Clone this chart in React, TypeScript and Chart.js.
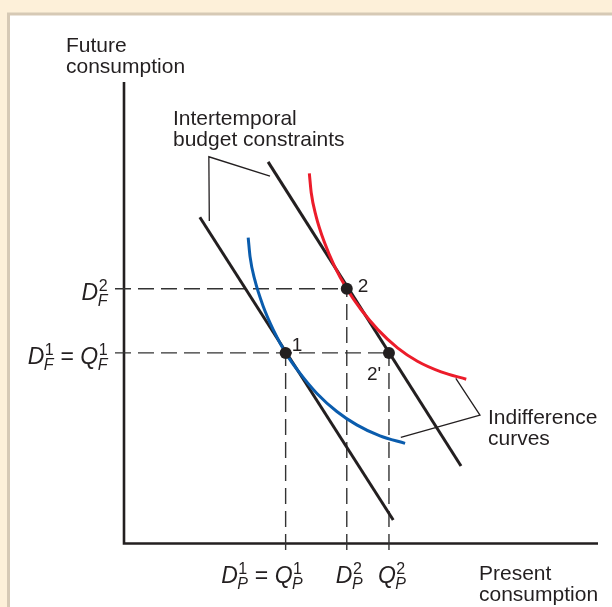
import React, { useEffect, useRef } from 'react';
import { Chart, registerables } from 'chart.js';

Chart.register(...registerables);

// ---- data (present consumption on x, future consumption on y; 0..100 units) ----
const budget1X = [16.0, 56.8];
const budget1Y = [70.7, 5.1];
const budget2X = [30.4, 71.1];
const budget2Y = [82.7, 16.8];

const indiff1X = [26.2, 26.6, 27.6, 29.4, 31.5, 34.1, 37.1, 40.7, 44.9, 49.1, 54.0, 59.3];
const indiff1Y = [66.3, 62.1, 57.1, 51.3, 46.3, 41.3, 36.9, 32.5, 28.6, 25.7, 23.3, 21.7];
const indiff2X = [39.1, 39.5, 40.5, 42.3, 44.4, 47.0, 50.0, 53.5, 57.7, 61.9, 66.9, 72.2];
const indiff2Y = [80.2, 76.0, 71.0, 65.2, 60.1, 55.2, 50.7, 46.4, 42.4, 39.5, 37.2, 35.6];

const pointNames = ['1', '2', "2'"];
const pointX = [34.1, 47.0, 55.9];
const pointY = [41.3, 55.2, 41.3];

const budgetLeaderX = [18.0, 17.9, 30.8];
const budgetLeaderY = [69.9, 83.8, 79.6];
const indiffLeaderX = [70.0, 75.1, 58.4];
const indiffLeaderY = [35.8, 27.8, 23.0];

type Tok = { b?: string; t?: string; sup?: string; sub?: string };

const yTickValues = [55.2, 41.3];
const yTickLabels: Tok[][] = [
  [{ b: 'D', sup: '2', sub: 'F' }],
  [{ b: 'D', sup: '1', sub: 'F' }, { t: ' = ' }, { b: 'Q', sup: '1', sub: 'F' }],
];
const xTickValues = [34.1, 47.0, 55.9];
const xTickLabels: Tok[][] = [
  [{ b: 'D', sup: '1', sub: 'P' }, { t: ' = ' }, { b: 'Q', sup: '1', sub: 'P' }],
  [{ b: 'D', sup: '2', sub: 'P' }],
  [{ b: 'Q', sup: '2', sub: 'P' }],
];

const yAxisTitle = ['Future', 'consumption'];
const xAxisTitle = ['Present', 'consumption'];
const budgetNote = ['Intertemporal', 'budget constraints'];
const indiffNote = ['Indifference', 'curves'];

// ---- styles / layout ----
const FONT = '"Liberation Sans", Arial, Helvetica, sans-serif';
const INK = '#231f20';
const BLUE = '#0a5cad';
const RED = '#ec1c2a';
const GUIDE = '#333333';
const TICK_X_EXT = -1.9; // how far guides run left of the y axis (units)
const TICK_Y_EXT = -1.4; // how far guides run below the x axis (units)
const pointLabelOffsets = [
  [6, -2],
  [11, 3],
  [-22, 27],
];

const MAIN = `italic 23px ${FONT}`;
const PLAIN = `23px ${FONT}`;
const SUP = `16px ${FONT}`;
const SUB = `italic 16px ${FONT}`;

function tokWidth(ctx: CanvasRenderingContext2D, tok: Tok): number {
  if (tok.t !== undefined) {
    ctx.font = PLAIN;
    return ctx.measureText(tok.t).width;
  }
  ctx.font = MAIN;
  const w = ctx.measureText(tok.b || '').width;
  ctx.font = SUP;
  const ws = ctx.measureText(tok.sup || '').width;
  ctx.font = SUB;
  const wb = ctx.measureText(tok.sub || '').width;
  return w + Math.max(ws, wb);
}

function drawTok(ctx: CanvasRenderingContext2D, tok: Tok, x: number, base: number): number {
  if (tok.t !== undefined) {
    ctx.font = PLAIN;
    ctx.fillText(tok.t, x, base);
    return ctx.measureText(tok.t).width;
  }
  ctx.font = MAIN;
  ctx.fillText(tok.b || '', x, base);
  const w = ctx.measureText(tok.b || '').width;
  ctx.font = SUP;
  ctx.fillText(tok.sup || '', x + w + 0.5, base - 9);
  const ws = ctx.measureText(tok.sup || '').width;
  ctx.font = SUB;
  ctx.fillText(tok.sub || '', x + w - 0.5, base + 6);
  const wb = ctx.measureText(tok.sub || '').width;
  return w + Math.max(ws, wb);
}

function drawTokens(ctx: CanvasRenderingContext2D, toks: Tok[], left: number, base: number) {
  let x = left;
  for (const t of toks) x += drawTok(ctx, t, x, base);
}

function drawLines(ctx: CanvasRenderingContext2D, lines: string[], left: number, base: number, lh: number) {
  lines.forEach((s, i) => ctx.fillText(s, left, base + i * lh));
}

const framePlugin = {
  id: 'frame',
  beforeDraw(chart: any) {
    const ctx = chart.ctx as CanvasRenderingContext2D;
    const W = chart.width;
    const H = chart.height;
    ctx.save();
    ctx.fillStyle = '#fdf0d9';
    ctx.fillRect(0, 0, W, H);
    ctx.fillStyle = '#d6c9b5';
    ctx.fillRect(7, 12.5, W, H);
    ctx.fillStyle = '#ffffff';
    ctx.fillRect(10, 15.5, W, H);
    ctx.restore();
  },
  beforeDatasetsDraw(chart: any) {
    const ctx = chart.ctx as CanvasRenderingContext2D;
    const a = chart.chartArea;
    ctx.save();
    ctx.strokeStyle = INK;
    ctx.lineWidth = 2.6;
    ctx.lineJoin = 'miter';
    ctx.beginPath();
    ctx.moveTo(a.left, a.top);
    ctx.lineTo(a.left, a.bottom);
    ctx.lineTo(a.right, a.bottom);
    ctx.stroke();
    ctx.restore();
  },
  afterDraw(chart: any) {
    const ctx = chart.ctx as CanvasRenderingContext2D;
    const xs = chart.scales.x;
    const ys = chart.scales.y;
    ctx.save();
    ctx.fillStyle = INK;
    ctx.textBaseline = 'alphabetic';
    ctx.textAlign = 'left';

    ctx.font = `21px ${FONT}`;
    drawLines(ctx, yAxisTitle, 66, 52, 21);
    drawLines(ctx, xAxisTitle, 479, 580, 21);
    drawLines(ctx, budgetNote, 173, 125, 21);
    drawLines(ctx, indiffNote, 488, 424, 21);

    ctx.font = `19px ${FONT}`;
    pointNames.forEach((n, i) => {
      const px = xs.getPixelForValue(pointX[i]);
      const py = ys.getPixelForValue(pointY[i]);
      ctx.font = `19px ${FONT}`;
      ctx.fillText(n, px + pointLabelOffsets[i][0], py + pointLabelOffsets[i][1]);
    });

    // y tick labels, right-aligned
    const axisLeft = chart.chartArea.left;
    yTickLabels.forEach((toks, i) => {
      const py = ys.getPixelForValue(yTickValues[i]);
      const w = toks.reduce((s, t) => s + tokWidth(ctx, t), 0);
      drawTokens(ctx, toks, axisLeft - 16 - w, py + 11.5);
    });

    // x tick labels: last symbol sits under its tick
    const base = chart.chartArea.bottom + 39.5;
    xTickLabels.forEach((toks, i) => {
      const px = xs.getPixelForValue(xTickValues[i]);
      const before = toks.slice(0, -1).reduce((s, t) => s + tokWidth(ctx, t), 0);
      drawTokens(ctx, toks, px - 11 - before, base);
    });
    ctx.restore();
  },
};

export default function App() {
  const ref = useRef<HTMLCanvasElement>(null);

  useEffect(() => {
    const canvas = ref.current;
    if (!canvas) return;
    const zip = (a: number[], b: number[]) => a.map((x, i) => ({ x, y: b[i] }));
    const line = (data: any[], color: string, width: number, order: number, extra: any = {}) => ({
      data,
      showLine: true,
      borderColor: color,
      backgroundColor: color,
      borderWidth: width,
      pointRadius: 0,
      fill: false,
      clip: false,
      order,
      ...extra,
    });

    const guides: any[] = [];
    // horizontal guides from y axis to the right-most point at that level
    yTickValues.forEach((yv) => {
      const maxX = Math.max(...pointX.filter((_, i) => pointY[i] === yv));
      guides.push(
        line([{ x: TICK_X_EXT, y: yv }, { x: maxX, y: yv }], GUIDE, 1.4, 20, {
          borderDash: [16, 7],
        })
      );
    });
    // vertical guides from x axis up to each point
    pointX.forEach((xv, i) => {
      guides.push(
        line([{ x: xv, y: TICK_Y_EXT }, { x: xv, y: pointY[i] }], GUIDE, 1.4, 20, {
          borderDash: [16, 7],
        })
      );
    });

    const chart = new Chart(canvas, {
      type: 'scatter',
      data: {
        datasets: [
          ...guides,
          line(zip(budgetLeaderX, budgetLeaderY), INK, 1.3, 15, { tension: 0 }),
          line(zip(indiffLeaderX, indiffLeaderY), INK, 1.3, 15, { tension: 0 }),
          line(zip(budget1X, budget1Y), INK, 3, 10),
          line(zip(budget2X, budget2Y), INK, 3, 10),
          line(zip(indiff1X, indiff1Y), BLUE, 3, 5, { cubicInterpolationMode: 'monotone' }),
          line(zip(indiff2X, indiff2Y), RED, 3, 5, { cubicInterpolationMode: 'monotone' }),
          {
            data: zip(pointX, pointY),
            showLine: false,
            pointRadius: 6,
            pointBackgroundColor: INK,
            pointBorderColor: INK,
            pointBorderWidth: 0,
            clip: false,
            order: 1,
          },
        ],
      },
      options: {
        animation: false,
        responsive: false,
        devicePixelRatio: 1,
        events: [],
        layout: { padding: { left: 124, right: 14, top: 82, bottom: 63.5 } },
        scales: {
          x: { type: 'linear', min: 0, max: 100, display: false },
          y: { type: 'linear', min: 0, max: 100, display: false },
        },
        plugins: { legend: { display: false }, tooltip: { enabled: false } },
      },
      plugins: [framePlugin],
    } as any);
    return () => chart.destroy();
  }, []);

  return (
    <div style={{ position: 'fixed', left: 0, top: 0, width: 612, height: 607 }}>
      <canvas ref={ref} width={612} height={607} style={{ display: 'block', width: 612, height: 607 }} />
    </div>
  );
}
